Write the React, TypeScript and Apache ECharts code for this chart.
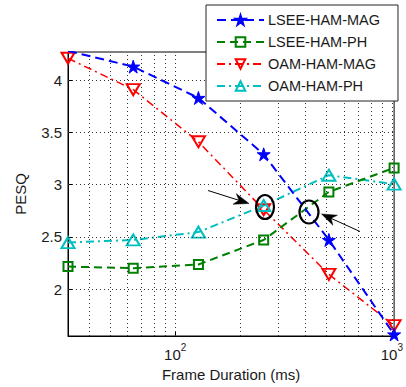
import React, { useEffect, useRef } from "react";
import * as echarts from "echarts";

// ---- data ----
const frameDurations = [32, 64, 128, 256, 512, 1024];
const lseeHamMag = [4.28, 4.13, 3.83, 3.29, 2.47, 1.565];
const lseeHamPh = [2.215, 2.2, 2.235, 2.47, 2.93, 3.16];
const oamHamMag = [4.21, 3.91, 3.41, 2.76, 2.14, 1.65];
const oamHamPh = [2.445, 2.47, 2.545, 2.8, 3.09, 3.005];
const yTicks = [2, 2.5, 3, 3.5, 4];
const xGridValues = [40, 50, 60, 70, 80, 90, 100, 200, 300, 400, 500, 600, 700, 800, 900, 1000];

const STAR = "path://M50,0 L61.2,34.5 L97.6,34.5 L68.2,55.9 L79.4,90.5 L50,69.1 L20.6,90.5 L31.8,55.9 L2.4,34.5 L38.8,34.5 Z";
const DOWN_TRI = "path://M0,0 L100,0 L50,90 Z";
const UP_TRI = "path://M50,0 L100,90 L0,90 Z";
const SQUARE = "path://M0,0 L100,0 L100,100 L0,100 Z";

const FONT = "Liberation Sans, Arial, Helvetica, sans-serif";

function pairs(ys: number[]) {
  return frameDurations.map((x, i) => [x, ys[i]]);
}

function arrow(x1: number, y1: number, x2: number, y2: number, len: number, half: number) {
  const dx = x2 - x1;
  const dy = y2 - y1;
  const L = Math.sqrt(dx * dx + dy * dy);
  const ux = dx / L;
  const uy = dy / L;
  const px = -uy;
  const py = ux;
  const bx = x2 - ux * len;
  const by = y2 - uy * len;
  const nx = x2 - ux * len * 0.7;
  const ny = y2 - uy * len * 0.7;
  return [
    {
      type: "line",
      shape: { x1, y1, x2: nx, y2: ny },
      style: { stroke: "#000", lineWidth: 1 },
      z: 100,
    },
    {
      type: "polygon",
      shape: {
        points: [
          [x2, y2],
          [bx + px * half, by + py * half],
          [nx, ny],
          [bx - px * half, by - py * half],
        ],
      },
      style: { fill: "#000", stroke: "#000", lineWidth: 0.5 },
      z: 100,
    },
  ];
}

export default function App() {
  const ref = useRef<HTMLDivElement>(null);
  useEffect(() => {
    if (!ref.current) return;
    const chart = echarts.init(ref.current, undefined, { renderer: "svg" });
    const gridLine = { color: "#333", type: [1, 3] as any, width: 1 };
    chart.setOption({
      animation: false,
      textStyle: { fontFamily: FONT },
      grid: {
        left: 68,
        top: 52,
        right: 8,
        bottom: 50,
        show: true,
        borderColor: "#000",
        borderWidth: 1,
        backgroundColor: "#fff",
      },
      xAxis: {
        type: "log",
        logBase: 10,
        min: 32,
        max: 1024,
        name: "Frame Duration (ms)",
        nameLocation: "middle",
        nameGap: 31,
        nameTextStyle: { fontSize: 15, color: "#1a1a1a", fontFamily: FONT },
        axisLine: { lineStyle: { color: "#000", width: 1 } },
        axisTick: { inside: true, length: 4, lineStyle: { color: "#000" } },
        splitLine: { show: false },
        axisLabel: {
          margin: 8,
          color: "#1a1a1a",
          fontFamily: FONT,
          formatter: (v: number) => {
            if (Math.abs(v - 100) < 1e-3) return "{b|10}{s|2}";
            if (Math.abs(v - 1000) < 1e-3) return "{b|10}{s|3}";
            return "";
          },
          rich: {
            b: { fontSize: 15, fontFamily: FONT, color: "#1a1a1a", lineHeight: 18, verticalAlign: "bottom" },
            s: { fontSize: 10, fontFamily: FONT, color: "#1a1a1a", lineHeight: 12, padding: [0, 0, 10, 0], verticalAlign: "bottom" },
          },
        },
      },
      yAxis: {
        type: "value",
        min: 1.55,
        max: 4.27,
        name: "PESQ",
        nameLocation: "middle",
        nameGap: 40,
        nameTextStyle: { fontSize: 15, color: "#1a1a1a", fontFamily: FONT },
        axisLine: { show: true, lineStyle: { color: "#000", width: 1 } },
        axisTick: { show: true, inside: true, length: 4, customValues: yTicks, lineStyle: { color: "#000" } },
        splitLine: { show: false },
        axisLabel: {
          customValues: yTicks,
          margin: 6,
          fontSize: 15,
          color: "#1a1a1a",
          fontFamily: FONT,
          formatter: (v: number) => String(v),
        },
      },
      legend: {
        data: ["LSEE-HAM-MAG", "LSEE-HAM-PH", "OAM-HAM-MAG", "OAM-HAM-PH"],
        orient: "vertical",
        left: 206,
        top: 5,
        padding: [5, 18, 5, 10],
        itemGap: 2,
        itemWidth: 47,
        itemHeight: 12,
        backgroundColor: "#fff",
        borderColor: "#222",
        borderWidth: 1,
        borderRadius: 0,
        z: 50,
        textStyle: { fontSize: 14.5, lineHeight: 20, color: "#1a1a1a", fontFamily: FONT, padding: [0, 0, 0, -1] },
      },
      series: [
        {
          name: "grid",
          type: "line",
          data: [],
          z: 1,
          silent: true,
          markLine: {
            silent: true,
            symbol: "none",
            label: { show: false },
            lineStyle: gridLine,
            data: [
              ...xGridValues.map((v) => ({ xAxis: v })),
              ...yTicks.map((v) => ({ yAxis: v })),
            ],
          },
        },
        {
          name: "LSEE-HAM-MAG",
          type: "line",
          data: pairs(lseeHamMag),
          z: 5,
          symbol: STAR,
          symbolSize: 13,
          lineStyle: { color: "#0000ff", width: 2, type: [9, 5] },
          itemStyle: { color: "#0000ff", borderColor: "#0000ff", borderWidth: 1 },
        },
        {
          name: "LSEE-HAM-PH",
          type: "line",
          data: pairs(lseeHamPh),
          z: 4,
          symbol: SQUARE,
          symbolSize: 9,
          lineStyle: { color: "#008000", width: 2, type: [8, 5] },
          itemStyle: { color: "rgba(0,0,0,0)", borderColor: "#008000", borderWidth: 2 },
        },
        {
          name: "OAM-HAM-MAG",
          type: "line",
          data: pairs(oamHamMag),
          z: 3,
          symbol: DOWN_TRI,
          symbolSize: [13, 11],
          lineStyle: { color: "#ff0000", width: 1.5, type: [8, 4, 2, 4] },
          itemStyle: { color: "rgba(0,0,0,0)", borderColor: "#ff0000", borderWidth: 2 },
        },
        {
          name: "OAM-HAM-PH",
          type: "line",
          data: pairs(oamHamPh),
          z: 3,
          symbol: UP_TRI,
          symbolSize: [13, 11],
          lineStyle: { color: "#00bfbf", width: 2, type: [8, 4, 2, 4] },
          itemStyle: { color: "rgba(0,0,0,0)", borderColor: "#00bfbf", borderWidth: 2 },
        },
      ],
      graphic: [
        {
          type: "ellipse",
          shape: { cx: 265, cy: 207, rx: 9, ry: 12 },
          style: { fill: "none", stroke: "#000", lineWidth: 2.2 },
          z: 100,
        },
        {
          type: "ellipse",
          shape: { cx: 309, cy: 212, rx: 9.5, ry: 11.5 },
          style: { fill: "none", stroke: "#000", lineWidth: 2.2 },
          z: 100,
        },
        ...arrow(208, 190.5, 249, 203.5, 15, 5.5),
        ...arrow(360, 231.5, 321.5, 214, 15, 5.5),
      ],
    });
    return () => chart.dispose();
  }, []);
  return (
    <div
      ref={ref}
      style={{ position: "fixed", left: 0, top: 0, width: 406, height: 387, background: "#fff" }}
    />
  );
}
